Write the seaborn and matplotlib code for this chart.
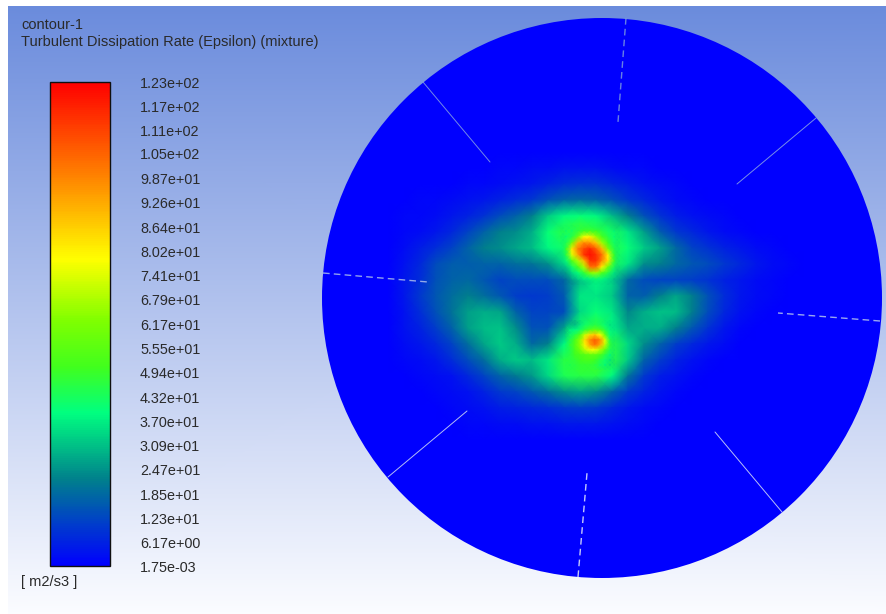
import numpy as np
import pandas as pd
import seaborn as sns
import matplotlib
matplotlib.use("Agg")
import matplotlib.pyplot as plt
from matplotlib.colors import LinearSegmentedColormap
from matplotlib.patches import Circle
from matplotlib.transforms import ScaledTranslation

W, H = 886, 614
TITLE = "contour-1"
SUBTITLE = "Turbulent Dissipation Rate (Epsilon) (mixture)"
UNITS = "[ m2/s3 ]"
TICK_LABELS = ["1.23e+02", "1.17e+02", "1.11e+02", "1.05e+02", "9.87e+01", "9.26e+01", "8.64e+01",
               "8.02e+01", "7.41e+01", "6.79e+01", "6.17e+01", "5.55e+01", "4.94e+01", "4.32e+01",
               "3.70e+01", "3.09e+01", "2.47e+01", "1.85e+01", "1.23e+01", "6.17e+00", "1.75e-03"]
VMIN, VMAX = 1.75e-03, 123.0

# Epsilon: x 388..804 (step 16 px), y 152..440 (step 16 px)
FIELD_X = (388, 804)
FIELD_Y = (152, 440)
FIELD = [
 [0,0,0,0,0,0,0,0,0,0,0,0,0,0,0,0,0,0,0,0,0,0,0,0,0,0,0],
 [0,0,0,0,0,0,0,1,1,2,2,3,3,3,2,1,1,0,0,0,0,0,0,0,0,0,0],
 [0,0,0,0,0,1,1,2,3,4,6,8,9,9,7,5,3,2,1,0,0,0,0,0,0,0,0],
 [0,0,1,1,2,3,4,6,8,10,14,17,18,17,14,10,7,4,2,1,0,0,0,0,0,0,0],
 [0,1,1,2,4,6,9,13,17,22,32,38,40,38,30,22,14,9,5,3,2,1,0,0,0,0,0],
 [0,1,2,4,7,12,17,22,24,28,40,46,52,48,44,36,26,16,10,7,4,2,1,0,0,0,0],
 [0,2,5,8,12,17,22,24,27,30,38,42,50,50,46,40,32,26,18,12,9,6,4,2,1,0,0],
 [0,3,7,13,16,16,17,17,19,20,24,34,44,48,44,36,24,22,18,15,13,10,7,4,2,1,0],
 [0,4,8,14,17,18,15,12,13,13,13,18,30,38,34,18,13,12,12,11,9,6,4,2,1,0,0],
 [0,4,10,15,19,22,19,15,11,10,11,15,36,36,32,17,16,22,27,22,14,8,4,2,1,0,0],
 [0,3,8,14,20,26,28,27,17,12,12,13,34,40,36,23,28,31,30,22,13,7,3,1,0,0,0],
 [0,3,6,11,17,26,30,31,24,14,14,26,42,48,38,27,28,28,22,15,9,4,1,0,0,0,0],
 [0,2,4,7,12,19,27,32,28,18,22,38,48,52,46,34,24,17,11,7,4,2,0,0,0,0,0],
 [0,1,2,4,8,13,19,28,32,30,36,46,50,52,46,32,17,11,6,3,1,0,0,0,0,0,0],
 [0,0,1,2,3,7,12,17,21,25,34,44,46,46,38,20,10,5,3,1,0,0,0,0,0,0,0],
 [0,0,0,1,2,3,6,10,12,15,19,24,26,24,17,10,6,3,1,0,0,0,0,0,0,0,0],
 [0,0,0,0,1,2,3,5,6,7,8,10,11,10,7,4,2,1,0,0,0,0,0,0,0,0,0],
 [0,0,0,0,0,1,1,2,2,3,3,4,4,4,3,2,1,0,0,0,0,0,0,0,0,0,0],
 [0,0,0,0,0,0,0,0,0,0,0,0,0,0,0,0,0,0,0,0,0,0,0,0,0,0,0],
]

# Upper hot spot: x 560..620, y 225..285 (step 6 px)
HOT_A_X = (560, 620)
HOT_A_Y = (225, 285)
HOT_A = [
 [36,38,38,40,42,42,42,40,38,34,28],
 [36,40,42,46,50,52,50,46,42,38,32],
 [36,40,46,60,78,80,66,52,46,40,34],
 [36,44,60,90,98,96,88,66,50,42,34],
 [38,50,82,100,110,116,106,90,62,46,34],
 [36,48,74,94,114,120,114,102,80,50,34],
 [32,40,54,68,90,114,114,98,82,52,32],
 [26,32,42,52,68,102,102,80,60,44,30],
 [20,26,34,40,48,62,66,54,46,36,26],
 [14,20,28,34,38,40,42,40,36,30,22],
 [12,16,22,28,30,32,34,34,30,26,18],
]

# Lower hot spot: x 565..615, y 320..370 (step 5 px)
HOT_B_X = (565, 615)
HOT_B_Y = (320, 370)
HOT_B = [
 [34,26,22,28,38,40,42,40,36,32,28],
 [36,30,30,36,42,44,46,44,40,34,30],
 [40,38,38,42,48,54,58,54,46,38,32],
 [42,42,46,54,72,84,88,78,58,40,34],
 [44,46,52,64,84,98,106,98,74,46,34],
 [44,48,54,64,80,94,102,92,70,48,34],
 [44,46,52,60,70,76,76,68,56,44,34],
 [44,46,50,52,54,56,56,52,46,38,32],
 [44,46,48,50,52,52,50,46,42,36,30],
 [42,44,46,48,48,48,46,42,38,34,28],
 [40,42,44,46,46,46,42,38,36,32,26],
]

# Eight slits in the disc, pixel ends: (x0, y0, x1, y1)
SLITS_DASHED = [(626, 18, 618, 122), (323, 273, 428, 282), (578, 577, 587, 473), (880, 321, 778, 313)]
SLITS_SOLID = [(423, 82, 490, 162), (388, 477, 467, 411), (782, 512, 715, 432), (816, 118, 737, 184)]
DISC_CENTER = (602, 298)
DISC_RADIUS = 280

CMAP_STOPS = [(0.0, (0, 0, 255)), (0.09, (0, 64, 200)), (0.178, (0, 128, 140)), (0.316, (0, 255, 128)),
              (0.41, (64, 255, 30)), (0.508, (128, 255, 0)), (0.634, (255, 255, 0)),
              (0.81, (255, 128, 0)), (1.0, (255, 0, 0))]
BG_TOP, BG_BOTTOM = "#6a8bdc", "#fbfcff"

sns.set_theme(style="white")
plt.rcParams["font.family"] = ["Liberation Sans", "DejaVu Sans"]
cmap = LinearSegmentedColormap.from_list("fluent", [(t, tuple(c / 255 for c in rgb)) for t, rgb in CMAP_STOPS])
bg_cmap = LinearSegmentedColormap.from_list("bg", [BG_TOP, BG_BOTTOM])

fig = plt.figure(figsize=(W / 100, H / 100), dpi=100, facecolor="white")


def px_axes(x0, x1, y0, y1):
    a = fig.add_axes([x0 / W, 1 - y1 / H, (x1 - x0) / W, (y1 - y0) / H])
    a.patch.set_alpha(0)
    return a


def smooth_heat(data, a, **kw):
    df = pd.DataFrame(data, dtype=float)
    sns.heatmap(df, ax=a, shading="gouraud", xticklabels=False, yticklabels=False, **kw)
    a.set_xlim(0, df.shape[1] - 1)
    a.set_ylim(df.shape[0] - 1, 0)
    a.axis("off")


# background gradient
ax_bg = px_axes(8, W, 6, H)
smooth_heat([[0, 0], [1, 1]], ax_bg, vmin=0, vmax=1, cmap=bg_cmap, cbar=False)

# disc
ax_disc = px_axes(0, W, 0, H)
ax_disc.set_xlim(0, W)
ax_disc.set_ylim(H, 0)
ax_disc.axis("off")
ax_disc.add_patch(Circle(DISC_CENTER, DISC_RADIUS, fc=cmap(0.0), ec="none"))

cax = px_axes(49.5, 110, 82, 566)
ax_f = px_axes(FIELD_X[0], FIELD_X[1], FIELD_Y[0], FIELD_Y[1])
tick_vals = [float(s) for s in TICK_LABELS]
smooth_heat(FIELD, ax_f, vmin=VMIN, vmax=VMAX, cmap=cmap, cbar=True, cbar_ax=cax,
            cbar_kws={"ticks": tick_vals})
cbar = ax_f.collections[0].colorbar
cbar.set_ticklabels(TICK_LABELS)
cax.tick_params(length=0, pad=21.6, labelsize=10.4, labelcolor="#2a2a2a", right=False)
shift = ScaledTranslation(0, -1 / 100, fig.dpi_scale_trans)
for lbl in cax.get_yticklabels():
    lbl.set_transform(lbl.get_transform() + shift)
cbar.outline.set_edgecolor("#101010")
cbar.outline.set_linewidth(1.0)
cbar.outline.set_visible(True)

# hot spots fade out at their rims so they sit inside the wider field
for data, xr, yr in [(HOT_A, HOT_A_X, HOT_A_Y), (HOT_B, HOT_B_X, HOT_B_Y)]:
    a = px_axes(xr[0], xr[1], yr[0], yr[1])
    smooth_heat(data, a, vmin=VMIN, vmax=VMAX, cmap=cmap, cbar=False)
    n = np.array(data).shape[0]
    ramp = np.clip(np.minimum(np.arange(n), np.arange(n)[::-1]) / 2.0, 0, 1)
    a.collections[0].set_alpha(np.outer(ramp, ramp))

ax_top = px_axes(0, W, 0, H)
ax_top.set_xlim(0, W)
ax_top.set_ylim(H, 0)
ax_top.axis("off")
for x0, y0, x1, y1 in SLITS_DASHED:
    ax_top.plot([x0, x1], [y0, y1], color=bg_cmap((y0 + y1) / 2 / H), lw=1.0, alpha=0.85, dashes=(4.8, 3.0))
for x0, y0, x1, y1 in SLITS_SOLID:
    ax_top.plot([x0, x1], [y0, y1], color=bg_cmap((y0 + y1) / 2 / H), lw=0.7, alpha=0.85)

ax_top.text(21, 25, TITLE, fontsize=10.5, color="#2a2a2a", va="center", ha="left")
ax_top.text(21, 42, SUBTITLE, fontsize=10.5, color="#2a2a2a", va="center", ha="left")
ax_top.text(21, 582, UNITS, fontsize=10.5, color="#2a2a2a", va="center", ha="left")

fig.savefig("out.png", dpi=100, facecolor="white")
